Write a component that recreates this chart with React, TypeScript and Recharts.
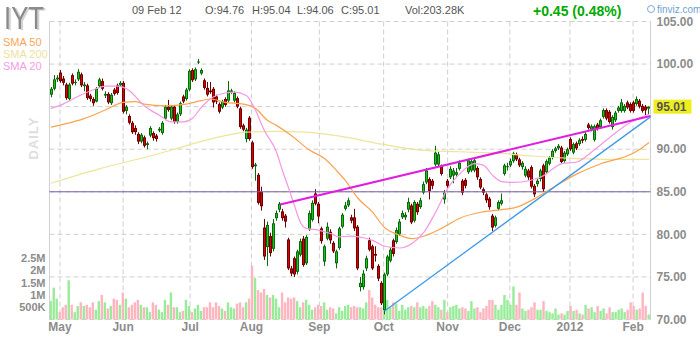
import React from "react";
import {
  Bar,
  CartesianGrid,
  Cell,
  ComposedChart,
  Line,
  ReferenceLine,
  XAxis,
  YAxis,
} from "recharts";

const FONT = "'Liberation Sans', Arial, sans-serif";

// month ticks sit on the trading-day index (0 = 27 Apr 2011)
const MONTH_TICKS = [3, 24, 46.3, 66.7, 89.3, 110.7, 132, 152.7, 172.7, 193.7];
const MONTH_LABELS = ["May", "Jun", "Jul", "Aug", "Sep", "Oct", "Nov", "Dec", "2012", "Feb"];
const PRICE_TICKS = [70, 75, 80, 85, 90, 95, 100, 105];
const VOLUME_TICKS = [500000, 1000000, 1500000, 2000000, 2500000];
const VOLUME_LABELS = ["500K", "1M", "1.5M", "2M", "2.5M"];

// daily candles, one row of numbers per month
const OPEN = [
  96.4, 97.1, 98.2,
  99.0, 98.3, 97.6, 95.9, 98.7, 97.8, 98.2, 98.8, 97.4, 97.5, 96.3, 95.9, 95.6, 97.4, 98.0, 96.3, 96.5, 95.4, 97.0, 97.5, 97.5,
  97.8, 94.5, 93.9, 93.1, 92.5, 91.8, 90.9, 91.4, 90.5, 91.6, 91.9, 91.6, 92.2, 91.9, 93.6, 95.0, 93.6, 95.0, 93.2, 94.1, 96.2, 95.9,
  97.0, 99.3, 98.2, 100.2, 98.9, 98.1, 97.2, 96.9, 97.1, 96.2, 95.3, 94.9, 95.9, 95.7, 96.7, 95.7, 96.0, 94.8, 92.8, 91.2,
  93.7, 90.8, 88.0, 87.0, 85.0, 80.8, 78.5, 79.8, 78.3, 81.9, 82.9, 82.7, 82.2, 79.4, 76.0, 77.2, 75.6, 77.6, 79.5, 76.6, 80.6, 81.7, 84.8,
  83.6, 80.7, 76.8, 79.5, 80.3, 79.0, 76.6, 78.4, 80.9, 83.0, 83.4, 82.0, 82.0, 80.9, 73.8, 73.8, 76.0, 79.3, 78.6, 77.7, 76.3,
  74.3, 71.1, 75.3, 76.9, 79.3, 79.1, 80.0, 82.0, 82.0, 82.9, 83.4, 81.6, 83.6, 83.2, 84.9, 86.1, 86.5, 86.3, 88.2, 88.2, 88.0,
  84.1, 86.3, 86.7, 86.9, 87.0, 87.7, 86.3, 86.4, 87.3, 87.5, 87.5, 87.8, 86.5, 85.3, 84.7, 84.2, 82.2, 81.0, 83.0, 83.6, 87.1,
  87.9, 88.1, 88.6, 89.4, 88.8, 87.9, 86.9, 87.5, 87.9, 85.7, 85.9, 86.5, 88.1, 87.3, 88.3, 89.0, 89.8, 90.1, 90.2, 88.6, 89.4,
  91.2, 89.6, 90.7, 90.6, 91.2, 91.1, 92.9, 92.3, 91.1, 92.9, 92.6, 93.8, 94.6, 94.4, 92.6, 93.4, 94.5, 94.5, 94.5, 95.5,
  95.3, 95.5, 95.3, 95.7, 95.1, 95.0, 94.76,
];
const HIGH = [
  97.3, 98.7, 98.7,
  99.3, 98.6, 97.8, 97.8, 98.9, 98.2, 99.4, 99.0, 97.9, 97.7, 96.5, 96.1, 97.3, 98.4, 98.3, 96.8, 96.7, 96.6, 97.2, 97.7, 98.0,
  98.0, 95.2, 94.1, 93.3, 92.8, 92.0, 91.9, 91.6, 90.9, 92.7, 92.1, 91.8, 92.6, 93.3, 95.2, 95.8, 95.2, 95.2, 94.3, 95.6, 96.4, 97.2,
  99.4, 99.5, 99.6, 100.6, 99.5, 98.3, 97.9, 97.9, 97.3, 96.4, 95.5, 95.8, 96.1, 98.0, 97.1, 96.8, 96.2, 95.0, 93.0, 92.5,
  93.9, 91.0, 88.4, 87.2, 85.6, 81.8, 81.5, 80.2, 81.8, 82.8, 83.8, 83.0, 82.4, 79.6, 76.3, 77.4, 78.2, 79.5, 79.8, 79.9, 82.8, 84.0, 85.3,
  83.8, 80.9, 78.8, 81.4, 80.6, 79.2, 78.2, 80.9, 82.5, 83.8, 84.3, 82.3, 83.0, 81.1, 75.0, 75.8, 77.5, 79.6, 78.8, 78.6, 76.5,
  74.5, 75.5, 77.6, 78.5, 79.5, 80.8, 81.8, 82.8, 82.6, 84.3, 83.6, 84.0, 83.8, 84.3, 86.2, 87.8, 86.7, 86.5, 90.4, 89.7, 88.2,
  85.2, 86.5, 88.0, 87.8, 87.8, 88.7, 86.5, 86.6, 88.9, 88.8, 89.0, 88.0, 86.7, 85.5, 84.9, 84.4, 82.4, 82.2, 84.0, 84.8, 88.3,
  88.4, 88.9, 89.7, 89.6, 89.0, 88.6, 88.0, 87.7, 88.1, 85.9, 86.5, 87.7, 88.3, 88.8, 89.2, 90.0, 90.3, 90.6, 90.4, 89.8, 90.2,
  91.4, 90.8, 90.9, 91.3, 91.5, 92.0, 93.1, 92.9, 92.9, 93.1, 93.6, 94.8, 94.8, 94.6, 94.0, 94.5, 95.1, 95.9, 95.3, 95.7,
  95.5, 95.7, 96.2, 95.9, 95.3, 95.2, 95.04,
];
const LOW = [
  96.1, 96.9, 97.9,
  97.8, 97.5, 95.8, 95.7, 97.5, 97.5, 98.0, 97.3, 96.8, 95.8, 95.6, 95.1, 95.5, 97.2, 96.9, 96.0, 95.3, 95.2, 96.3, 96.4, 97.3,
  94.2, 94.1, 92.9, 91.8, 91.7, 90.6, 90.7, 90.2, 90.0, 91.4, 91.0, 90.9, 92.0, 91.7, 93.4, 94.4, 93.4, 93.0, 93.0, 93.9, 95.4, 95.7,
  96.8, 97.9, 98.0, 100.0, 98.7, 97.0, 96.2, 96.5, 94.9, 95.3, 94.2, 94.7, 95.0, 95.5, 96.5, 95.5, 94.8, 92.4, 92.1, 90.8,
  91.0, 87.7, 86.3, 83.5, 82.8, 77.0, 76.3, 77.4, 78.0, 81.6, 82.6, 81.6, 80.8, 75.8, 75.1, 75.0, 75.3, 77.4, 76.2, 76.4, 80.4, 81.5, 83.4,
  81.3, 78.9, 76.3, 79.3, 78.9, 77.8, 76.0, 78.2, 80.7, 82.8, 83.2, 81.3, 80.4, 75.8, 73.3, 73.5, 75.7, 78.0, 75.8, 76.8, 74.5,
  71.7, 70.6, 75.1, 76.7, 77.4, 78.9, 79.8, 81.8, 81.7, 82.6, 81.2, 81.4, 82.3, 83.0, 84.7, 85.9, 84.1, 85.3, 88.0, 88.0, 86.9,
  83.6, 85.4, 86.5, 86.0, 86.8, 87.5, 84.6, 85.4, 87.1, 87.3, 87.3, 86.4, 85.3, 84.6, 83.7, 82.9, 80.4, 80.8, 82.8, 83.4, 86.9,
  87.5, 87.9, 88.4, 88.6, 87.9, 87.6, 86.7, 86.4, 85.4, 84.4, 85.6, 86.2, 85.0, 87.1, 88.1, 88.8, 89.6, 89.9, 88.3, 88.4, 89.2,
  89.8, 89.4, 89.9, 90.4, 90.7, 90.9, 92.3, 92.1, 90.9, 92.2, 92.4, 93.6, 93.4, 93.0, 92.3, 93.2, 94.3, 94.3, 94.3, 94.7,
  94.3, 94.3, 95.1, 94.8, 94.3, 94.0, 94.06,
];
const CLOSE = [
  97.1, 98.2, 98.4,
  98.0, 97.8, 96.0, 97.6, 97.7, 97.9, 99.1, 97.5, 97.6, 96.0, 95.9, 95.4, 97.1, 98.2, 97.1, 96.5, 95.5, 96.4, 96.5, 96.6, 97.8,
  94.4, 95.0, 93.1, 92.0, 92.0, 90.9, 91.7, 90.4, 90.7, 92.5, 91.3, 91.2, 92.4, 93.1, 95.0, 94.6, 95.0, 93.2, 94.1, 95.4, 95.6, 97.0,
  99.2, 98.1, 99.4, 100.3, 99.3, 97.2, 96.4, 96.7, 95.5, 95.6, 94.4, 95.6, 95.2, 96.9, 96.9, 96.6, 95.0, 92.6, 92.3, 92.3,
  91.2, 87.9, 88.2, 83.7, 83.3, 77.4, 81.1, 77.8, 81.3, 82.5, 83.6, 81.9, 81.5, 76.0, 75.4, 75.3, 78.0, 79.2, 76.4, 79.7, 82.5, 83.7, 83.6,
  82.1, 79.2, 78.6, 80.9, 79.3, 78.0, 78.0, 80.7, 82.3, 83.4, 84.0, 81.6, 80.7, 76.0, 74.3, 75.4, 77.2, 78.2, 76.0, 77.5, 74.8,
  71.9, 75.3, 77.4, 78.2, 77.7, 80.5, 81.5, 82.5, 82.3, 83.8, 81.4, 83.8, 82.6, 84.0, 85.9, 87.5, 85.1, 85.7, 89.6, 89.4, 87.1,
  84.9, 85.7, 87.7, 87.5, 87.3, 88.4, 84.9, 85.7, 88.7, 88.6, 88.7, 86.7, 85.5, 84.9, 84.0, 83.2, 80.8, 82.0, 83.8, 84.0, 88.1,
  88.0, 88.6, 89.5, 88.8, 88.1, 88.4, 87.7, 86.7, 85.6, 84.7, 86.3, 87.5, 85.3, 88.6, 89.0, 89.8, 90.1, 90.4, 88.5, 89.6, 90.0,
  90.0, 90.6, 90.1, 91.1, 91.0, 91.8, 92.5, 92.7, 92.7, 92.4, 93.4, 94.6, 93.6, 93.2, 93.8, 94.3, 94.9, 95.5, 95.1, 94.9,
  94.5, 94.5, 95.9, 95.0, 94.5, 94.56, 95.01,
];
// volume in millions of shares
const VOLUME = [
  0.75, 1.3, 0.85,
  0.3, 0.5, 0.6, 1.6, 0.6, 0.3, 0.55, 0.7, 0.55, 0.6, 0.5, 0.7, 0.4, 0.75, 1.0, 0.7, 0.45, 0.55, 0.85, 0.8, 0.6,
  1.1, 0.85, 0.5, 0.6, 0.7, 0.8, 0.6, 0.5, 0.5, 0.3, 0.7, 0.6, 0.4, 0.3, 0.8, 0.6, 1.1, 0.5, 0.5, 0.3, 0.35, 0.8,
  0.55, 0.3, 0.45, 0.6, 0.35, 0.5, 0.5, 0.7, 0.5, 0.7, 0.55, 0.45, 0.35, 0.7, 0.5, 0.45, 0.65, 0.7, 0.5, 0.7,
  0.85, 2.2, 1.7, 1.2, 1.1, 1.25, 1.0, 0.9, 1.0, 0.85, 0.5, 1.1, 0.7, 0.9, 0.85, 0.9, 0.75, 0.5, 0.7, 0.8, 0.6, 0.4, 0.5,
  0.6, 0.55, 0.7, 0.4, 0.5, 0.45, 0.25, 0.5, 0.35, 0.55, 0.6, 0.5, 0.55, 0.5, 0.5, 0.45, 0.7, 1.2, 0.9, 0.6, 0.5,
  0.5, 0.75, 0.8, 0.5, 0.7, 0.65, 0.35, 0.6, 0.4, 0.5, 0.55, 0.5, 0.7, 0.5, 0.55, 0.45, 0.55, 0.75, 0.6, 0.5, 0.4,
  0.8, 0.3, 0.5, 0.55, 0.6, 0.45, 0.5, 0.45, 0.35, 0.75, 0.45, 0.5, 0.3, 0.45, 0.55, 0.8, 0.8, 0.6, 0.4, 0.6, 1.0,
  0.8, 0.6, 1.35, 0.6, 1.1, 0.45, 0.35, 0.4, 0.5, 0.7, 0.4, 0.4, 0.75, 0.35, 0.3, 0.25, 0.45, 0.2, 0.25, 0.2, 0.35,
  0.55, 0.35, 0.4, 0.25, 0.2, 0.6, 0.45, 0.5, 0.3, 0.55, 0.35, 0.45, 0.25, 0.5, 0.3, 0.3, 0.4, 0.45, 0.3, 0.4,
  0.7, 0.55, 0.4, 0.45, 1.1, 0.55, 0.20328,
];

// moving averages: [day index, value]
const SMA20_POINTS = [
  [0, 94.8], [4, 95.3], [9, 96.2], [15, 97.1], [18, 97.4], [22, 97.4], [26, 96.9], [31, 95.1], [36, 94.0],
  [40, 93.2], [44, 93.2], [47, 93.6], [50, 94.9], [53, 95.9], [58, 96.6], [61, 96.7], [65, 96.3], [68, 94.6],
  [71, 92.2], [75, 89.7], [77, 87.5], [79, 85.5], [81, 83.4], [83, 81.4], [85, 80.7], [89, 80.5], [93, 80.1],
  [96, 79.7], [100, 79.8], [104, 79.6], [107, 79.3], [111, 78.6], [116, 78.4], [120, 78.9], [124, 80.2],
  [128, 82.6], [132, 85.4], [136, 87.1], [141, 88.3], [144, 88.1], [147, 86.9], [150, 86.2], [154, 86.1],
  [159, 86.3], [164, 86.9], [167, 87.7], [170, 88.3], [175, 88.5], [180, 89.7], [186, 91.4], [193, 93.2], [199, 94.1],
];
const SMA50_POINTS = [
  [0, 92.6], [5, 93.0], [11, 93.6], [18, 94.6], [24, 95.5], [28, 95.6], [31, 95.3], [38, 95.1], [45, 95.3],
  [50, 95.7], [53, 95.9], [58, 95.5], [64, 95.3], [68, 94.8], [72, 93.4], [75, 92.8], [80, 91.6], [86, 89.9],
  [91, 88.9], [95, 87.5], [98, 86.3], [102, 84.3], [107, 82.6], [111, 80.8], [116, 79.9], [120, 79.5],
  [125, 79.9], [130, 80.7], [136, 81.9], [143, 82.6], [150, 82.9], [155, 83.2], [161, 84.2], [168, 85.7],
  [175, 87.1], [183, 88.3], [193, 89.4], [196, 90.0], [199, 90.8],
];
const SMA200_POINTS = [
  [0, 86.0], [16, 87.7], [33, 89.2], [41, 90.0], [51, 91.0], [58, 91.6], [65, 92.0], [75, 92.1], [85, 92.0],
  [95, 91.6], [110, 90.6], [123, 89.9], [136, 89.7], [150, 89.5], [160, 89.2], [175, 88.9], [185, 88.8], [199, 88.8],
];

// hand-drawn lines: [day index, price]
const RESISTANCE_LINE = [[76.3, 83.5], [199.5, 93.9]];
const SUPPORT_LINE = [[111, 71.0], [199.5, 93.8]];
const LEVEL = 85;

const spread = (points: number[][]) => {
  const out: (number | null)[] = OPEN.map(() => null);
  points.forEach(([i, v]) => (out[i] = v));
  return out;
};
const sma20 = spread(SMA20_POINTS);
const sma50 = spread(SMA50_POINTS);
const sma200 = spread(SMA200_POINTS);

const data = OPEN.map((open, i) => ({
  i,
  open,
  high: HIGH[i],
  low: LOW[i],
  close: CLOSE[i],
  range: [LOW[i], HIGH[i]],
  vol: VOLUME[i] * 1000000,
  sma20: sma20[i],
  sma50: sma50[i],
  sma200: sma200[i],
}));

const last = data[data.length - 1];
const change = last.close - CLOSE[CLOSE.length - 2];

function Candle(props: any) {
  const { x, y, width, height, payload } = props;
  if (!payload || height == null) return null;
  const top = Math.min(y, y + height);
  const h = Math.abs(height);
  const { open, close, high, low } = payload;
  const up = close >= open;
  const k = h / (high - low || 1);
  const py = (v: number) => top + (high - v) * k;
  const col = Math.floor(x + width / 2);
  const bTop = py(Math.max(open, close));
  const bH = Math.max(py(Math.min(open, close)) - bTop, 1);
  const edge = up ? "#0b680b" : "#6e0000";
  const fill = up ? "#1ec41e" : "#dc0000";
  return (
    <g>
      <line x1={col + 0.5} x2={col + 0.5} y1={top} y2={top + h} stroke={edge} strokeWidth={1} />
      <rect x={col - 1} y={bTop} width={3} height={bH} fill={edge} />
      {bH > 2 && <rect x={col} y={bTop + 1} width={1} height={bH - 2} fill={fill} />}
    </g>
  );
}

function PriceTick(props: any) {
  const { x, y, payload } = props;
  if (payload.value === 95) {
    return (
      <g>
        <rect x={x - 3} y={y - 7} width={38} height={14} fill="#eeee1c" />
        <text x={x} y={y} dy="0.35em" fill="#555" fontSize={12} fontWeight="bold" fontFamily={FONT}>
          {last.close.toFixed(2)}
        </text>
      </g>
    );
  }
  return (
    <text x={x} y={y} dy="0.35em" fill="#8c8c8c" fontSize={12} fontWeight="bold" fontFamily={FONT}>
      {payload.value.toFixed(2)}
    </text>
  );
}

const grey = { fill: "#8c8c8c", fontSize: 12, fontWeight: "bold", fontFamily: FONT };
const gridStroke = "#cfcfcf";

export default function App() {
  return (
    <div style={{ position: "absolute", left: 0, top: 0, width: 700, height: 340, background: "#fff" }}>
      <ComposedChart
        width={700}
        height={340}
        data={data}
        margin={{ top: 21.5, right: 0, bottom: 0, left: 0 }}
      >
        <XAxis
          xAxisId="c"
          dataKey="i"
          type="number"
          domain={[-0.5, 199.5]}
          ticks={MONTH_TICKS}
          interval={0}
          tickFormatter={(v: number) => MONTH_LABELS[MONTH_TICKS.indexOf(v)]}
          axisLine={false}
          tickLine={false}
          tickSize={0}
          tickMargin={3}
          height={20.5}
          tick={grey}
        />
        <XAxis xAxisId="v" dataKey="i" type="number" domain={[-0.5, 199.5]} hide />
        <YAxis
          yAxisId="vol"
          orientation="left"
          domain={[0, 12160000]}
          ticks={VOLUME_TICKS}
          interval={0}
          tickFormatter={(v: number) => VOLUME_LABELS[VOLUME_TICKS.indexOf(v)]}
          axisLine={false}
          tickLine={false}
          tickSize={0}
          tickMargin={4}
          width={49.5}
          tick={{ ...grey, fontSize: 11 }}
        />
        <YAxis
          yAxisId="price"
          orientation="right"
          domain={[70, 105]}
          ticks={PRICE_TICKS}
          interval={0}
          axisLine={false}
          tickLine={false}
          tickSize={0}
          tickMargin={6}
          width={49.5}
          tick={<PriceTick />}
        />
        <CartesianGrid xAxisId="c" yAxisId="price" stroke={gridStroke} strokeDasharray="5 3" />
        <ReferenceLine xAxisId="c" yAxisId="price" x={-0.5} stroke={gridStroke} strokeDasharray="5 3" />
        <ReferenceLine xAxisId="c" yAxisId="price" x={199.5} stroke={gridStroke} strokeDasharray="5 3" />
        <Bar xAxisId="v" yAxisId="vol" dataKey="vol" barSize={2.4} isAnimationActive={false}>
          {data.map((d) => (
            <Cell key={d.i} fill={d.close >= d.open ? "#98ec98" : "#ffb5c0"} />
          ))}
        </Bar>
        <ReferenceLine xAxisId="c" yAxisId="price" y={LEVEL} stroke="#7d5ca3" strokeWidth={1} />
        <Line xAxisId="c" yAxisId="price" dataKey="sma200" type="monotone" connectNulls dot={false} stroke="#efe49a" strokeWidth={1.2} isAnimationActive={false} />
        <Line xAxisId="c" yAxisId="price" dataKey="sma50" type="monotone" connectNulls dot={false} stroke="#fba34d" strokeWidth={1.2} isAnimationActive={false} />
        <Line xAxisId="c" yAxisId="price" dataKey="sma20" type="monotone" connectNulls dot={false} stroke="#f796e2" strokeWidth={1.2} isAnimationActive={false} />
        <Bar xAxisId="c" yAxisId="price" dataKey="range" barSize={3} shape={<Candle />} isAnimationActive={false} />
        <ReferenceLine
          xAxisId="c"
          yAxisId="price"
          segment={RESISTANCE_LINE.map(([x, y]) => ({ x, y }))}
          stroke="#e01ee0"
          strokeWidth={2}
        />
        <ReferenceLine
          xAxisId="c"
          yAxisId="price"
          segment={SUPPORT_LINE.map(([x, y]) => ({ x, y }))}
          stroke="#3f9be8"
          strokeWidth={1.3}
        />
      </ComposedChart>

      {/* header, legend and watermark text */}
      <svg width={700} height={340} style={{ position: "absolute", left: 0, top: 0, pointerEvents: "none" }}>
        <defs>
          <filter id="tickerShadow" x="-10%" y="-10%" width="130%" height="130%">
            <feDropShadow dx={2} dy={1} stdDeviation={0} floodColor="#d2d2d2" />
          </filter>
        </defs>
        <text
          x={4}
          y={29}
          fontSize={32}
          fontFamily={FONT}
          fill="#8a8a8a"
          textLength={40}
          lengthAdjust="spacingAndGlyphs"
          filter="url(#tickerShadow)"
        >
          IYT
        </text>
        <g fontFamily={FONT} fontSize={11} fill="#555">
          <text x={132} y={14}>09 Feb 12</text>
          <text x={205} y={14}>O:{last.open.toFixed(2)}</text>
          <text x={252} y={14}>H:{last.high.toFixed(2)}</text>
          <text x={297} y={14}>L:{last.low.toFixed(2)}</text>
          <text x={341} y={14}>C:{last.close.toFixed(2)}</text>
          <text x={405} y={14}>Vol:{(last.vol / 1000).toFixed(2)}K</text>
        </g>
        <text x={533} y={16} fontFamily={FONT} fontSize={14} fontWeight="bold" fill="#00aa00">
          +{change.toFixed(2)} ({((change / (last.close - change)) * 100).toFixed(2)}%)
        </text>
        <circle cx={651} cy={9} r={3.5} fill="none" stroke="#7fa7d6" strokeWidth={1} />
        <text x={657} y={13} fontFamily={FONT} fontSize={10} fill="#6f9fd6">finviz.com</text>
        <g fontFamily={FONT} fontSize={11}>
          <text x={3} y={46} fill="#f9a65a">SMA 50</text>
          <text x={3} y={58} fill="#ece29f">SMA 200</text>
          <text x={3} y={70} fill="#f59be3">SMA 20</text>
        </g>
        <text
          x={33}
          y={138}
          transform="rotate(-90 33 138)"
          textAnchor="middle"
          dominantBaseline="central"
          fontFamily={FONT}
          fontSize={13}
          fontWeight="bold"
          letterSpacing={1}
          fill="#dedede"
        >
          DAILY
        </text>
      </svg>
    </div>
  );
}
